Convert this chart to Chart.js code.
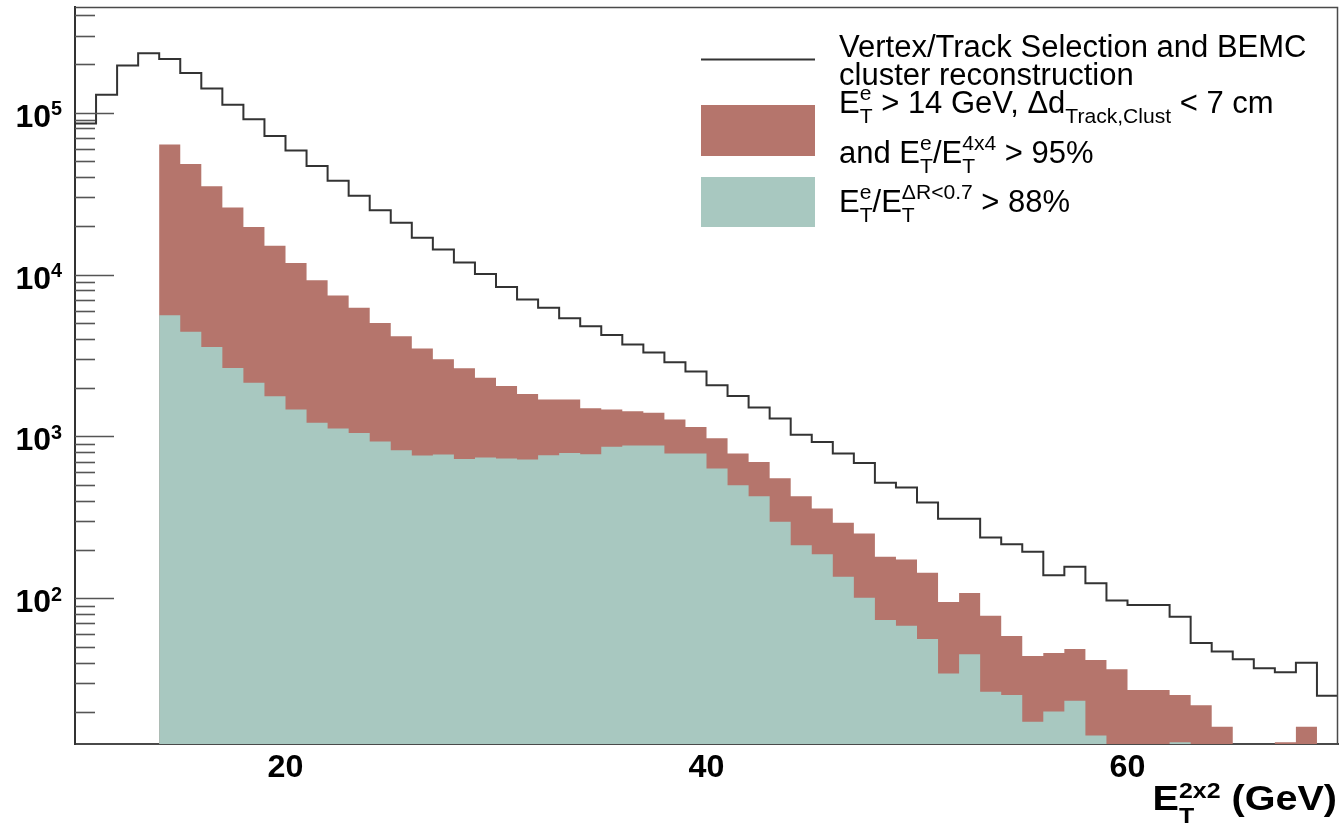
<!DOCTYPE html>
<html>
<head>
<meta charset="utf-8">
<title>E_T 2x2 spectrum after electron selection cuts</title>
<script src="https://cdn.jsdelivr.net/npm/chart.js@4.4.1/dist/chart.umd.min.js"></script>
<style>
  html, body { margin: 0; padding: 0; background: #ffffff; }
  #wrap { width: 1340px; height: 826px; position: relative; }
  canvas { display: block; }
</style>
</head>
<body>
<div id="wrap"><canvas id="chart" width="1340" height="826"></canvas></div>
<script>
// Histogram bins: lower edge of each 1 GeV bin in E_T^{2x2}
const binLow = [
  10, 11, 12, 13, 14, 15, 16, 17, 18, 19,
  20, 21, 22, 23, 24, 25, 26, 27, 28, 29,
  30, 31, 32, 33, 34, 35, 36, 37, 38, 39,
  40, 41, 42, 43, 44, 45, 46, 47, 48, 49,
  50, 51, 52, 53, 54, 55, 56, 57, 58, 59,
  60, 61, 62, 63, 64, 65, 66, 67, 68, 69
];
const binUpperEdge = 70;

// Vertex/Track selection and BEMC cluster reconstruction
const allSel = [
  85900, 129000, 196000, 233000, 215000, 176000, 141000, 112000, 91000, 71800,
  58500, 46800, 38000, 30700, 25000, 20900, 16900, 14300, 11900, 10100,
  8380, 7010, 6250, 5370, 4800, 4240, 3700, 3300, 2875, 2520,
  2073, 1780, 1510, 1291, 1025, 926, 785, 687, 517, 484,
  391, 310, 310, 238, 216, 194, 139, 157, 124, 97,
  91, 91, 77, 53, 47, 42, 37, 35, 40, 25
];

// E_T^e > 14 GeV, track-cluster distance and 4x4 ratio cuts
const trackSel = [
  0, 0, 0, 0, 63700, 48200, 35200, 26000, 19700, 15100,
  11800, 9230, 7420, 6250, 5020, 4160, 3490, 3000, 2640, 2310,
  2050, 1830, 1690, 1690, 1495, 1468, 1433, 1400, 1273, 1146,
  977, 785, 695, 553, 428, 359, 293, 252, 181, 174,
  144, 95, 108, 78, 58.5, 44, 46, 48.6, 41.6, 36.5,
  27.2, 27.2, 25.3, 21.9, 16.1, 0, 0, 12.9, 16.1, 0
];

// Isolation cut E_T^e / E_T^{dR<0.7} > 88%
const isoSel = [
  0, 0, 0, 0, 5610, 4430, 3575, 2650, 2145, 1775,
  1470, 1215, 1120, 1052, 930, 823, 764, 774, 727, 742,
  731, 721, 767, 792, 778, 863, 880, 880, 785, 785,
  634, 500, 428, 297, 213, 187, 136, 101, 73.5, 67.7,
  56.1, 34.4, 45.1, 26.5, 25.3, 17.3, 20, 23.3, 14.2, 0,
  0, 0, 12.9, 0, 0, 0, 0, 0, 0, 0
];

// Axis ticks and labels
const xTickValues = [20, 40, 60];
const yDecadeValues = [100, 1000, 10000, 100000];
const yDecadeExponents = ['2', '3', '4', '5'];

const X_MIN = 10, X_MAX = 70;
const Y_MIN = 12.6, Y_MAX = 450000;

const FONT = '"Liberation Sans", Arial, Helvetica, sans-serif';
const COLOR_LINE = '#333333';
const COLOR_TRACK = '#b5756c';
const COLOR_ISO = '#a8c8c0';
const COLOR_FRAME = '#4a4a4a';

// Turn a list of bin contents into step points (empty bins sit on the axis floor)
function histPoints(values) {
  const pts = binLow.map((x, i) => ({ x: x, y: values[i] > 0 ? values[i] : Y_MIN }));
  pts.push({ x: binUpperEdge, y: values[values.length - 1] > 0 ? values[values.length - 1] : Y_MIN });
  return pts;
}

// Draw text with superscripts / subscripts, optionally stretched horizontally
function drawRich(ctx, parts, x, y, o) {
  const size = o.size, small = size * (o.ratio || 0.68);
  const weight = o.weight || 'normal';
  const mainFont = weight + ' ' + size + 'px ' + FONT;
  const smallFont = weight + ' ' + small + 'px ' + FONT;
  const sx = o.sx || 1;
  let total = 0;
  for (const p of parts) {
    if (p.t !== undefined) { ctx.font = mainFont; total += ctx.measureText(p.t).width; }
    else {
      ctx.font = smallFont;
      total += Math.max(p.sup ? ctx.measureText(p.sup).width : 0, p.sub ? ctx.measureText(p.sub).width : 0);
    }
  }
  let startX = x;
  if (o.align === 'right') startX = x - total * sx;
  else if (o.align === 'center') startX = x - total * sx / 2;
  ctx.save();
  ctx.translate(startX, y);
  ctx.scale(sx, 1);
  ctx.fillStyle = o.color || '#000';
  ctx.textBaseline = 'alphabetic';
  ctx.textAlign = 'left';
  let cx = 0;
  const rise = size * (o.rise || 0.45), drop = size * (o.drop || 0.3);
  for (const p of parts) {
    if (p.t !== undefined) {
      ctx.font = mainFont;
      ctx.fillText(p.t, cx, 0);
      cx += ctx.measureText(p.t).width;
    } else {
      ctx.font = smallFont;
      let w = 0;
      if (p.sup) { ctx.fillText(p.sup, cx, -rise); w = Math.max(w, ctx.measureText(p.sup).width); }
      if (p.sub) { ctx.fillText(p.sub, cx, drop); w = Math.max(w, ctx.measureText(p.sub).width); }
      cx += w;
    }
  }
  ctx.restore();
}

const legendLines = [
  { parts: [{ t: 'Vertex/Track Selection and BEMC' }], y: 57 },
  { parts: [{ t: 'cluster reconstruction' }], y: 85 },
  { parts: [{ t: 'E' }, { sup: 'e', sub: 'T' }, { t: ' > 14 GeV, \u0394d' }, { sub: 'Track,Clust' }, { t: ' < 7 cm' }], y: 113 },
  { parts: [{ t: 'and E' }, { sup: 'e', sub: 'T' }, { t: '/E' }, { sup: '4x4', sub: 'T' }, { t: ' > 95%' }], y: 163 },
  { parts: [{ t: 'E' }, { sup: 'e', sub: 'T' }, { t: '/E' }, { sup: '\u0394R<0.7', sub: 'T' }, { t: ' > 88%' }], y: 212 }
];

const decorations = {
  id: 'rootStyle',
  afterDraw(chart) {
    const ctx = chart.ctx;
    const a = chart.chartArea;
    const xs = chart.scales.x, ys = chart.scales.y;

    // frame top and right
    ctx.save();
    ctx.strokeStyle = COLOR_FRAME;
    ctx.lineWidth = 1.5;
    ctx.beginPath();
    ctx.moveTo(a.left, a.top + 0.5);
    ctx.lineTo(a.right - 0.5, a.top + 0.5);
    ctx.lineTo(a.right - 0.5, a.bottom);
    ctx.stroke();

    // log-axis tick marks pointing into the frame
    ctx.lineWidth = 1.6;
    ctx.strokeStyle = '#555555';
    for (let d = 10; d <= 1e6; d *= 10) {
      for (let m = 1; m <= 9; m++) {
        const v = m * d;
        if (v < Y_MIN || v > Y_MAX) continue;
        const py = Math.round(ys.getPixelForValue(v)) + 0.5;
        const len = m === 1 ? 39 : 20;
        ctx.beginPath();
        ctx.moveTo(a.left, py);
        ctx.lineTo(a.left + len, py);
        ctx.stroke();
      }
    }
    ctx.restore();

    // y labels 10^n
    yDecadeValues.forEach((v, i) => {
      const py = ys.getPixelForValue(v);
      drawRich(ctx, [{ t: '10' }, { sup: yDecadeExponents[i] }], 62, py + 14, {
        size: 32, weight: 'bold', ratio: 0.62, rise: 0.36, align: 'right'
      });
    });

    // x labels
    xTickValues.forEach(v => {
      const px = xs.getPixelForValue(v);
      drawRich(ctx, [{ t: String(v) }], px, 777, { size: 31, weight: 'bold', align: 'center', sx: 1.04 });
    });

    // x axis title
    drawRich(ctx, [{ t: 'E' }, { sup: '2x2', sub: 'T' }, { t: ' (GeV)' }], 1337, 810, {
      size: 35, weight: 'bold', ratio: 0.63, rise: 0.33, drop: 0.37, align: 'right', sx: 1.13
    });

    // legend
    ctx.save();
    ctx.strokeStyle = COLOR_LINE;
    ctx.lineWidth = 2;
    ctx.beginPath();
    ctx.moveTo(701, 59.5);
    ctx.lineTo(815, 59.5);
    ctx.stroke();
    ctx.fillStyle = COLOR_TRACK;
    ctx.fillRect(701, 105, 114, 51);
    ctx.fillStyle = COLOR_ISO;
    ctx.fillRect(701, 177, 114, 50);
    ctx.restore();
    legendLines.forEach(l => {
      drawRich(ctx, l.parts, 839, l.y, { size: 31, ratio: 0.68, rise: 0.43, drop: 0.32, sx: 1 });
    });
  }
};

new Chart(document.getElementById('chart'), {
  type: 'line',
  data: {
    datasets: [
      {
        label: 'Vertex/Track Selection and BEMC cluster reconstruction',
        data: histPoints(allSel),
        stepped: 'before',
        borderColor: COLOR_LINE,
        borderWidth: 2,
        pointRadius: 0,
        fill: false
      },
      {
        label: 'isolation',
        data: histPoints(isoSel),
        stepped: 'before',
        borderWidth: 0,
        borderColor: COLOR_ISO,
        backgroundColor: COLOR_ISO,
        pointRadius: 0,
        fill: 'start'
      },
      {
        label: 'track-cluster',
        data: histPoints(trackSel),
        stepped: 'before',
        borderWidth: 0,
        borderColor: COLOR_TRACK,
        backgroundColor: COLOR_TRACK,
        pointRadius: 0,
        fill: 'start'
      }
    ]
  },
  options: {
    responsive: false,
    animation: false,
    devicePixelRatio: 1,
    layout: { padding: { top: 7, right: 2, left: 0, bottom: 0 } },
    plugins: { legend: { display: false }, tooltip: { enabled: false } },
    scales: {
      x: {
        type: 'linear',
        min: X_MIN,
        max: X_MAX,
        grid: { display: false, drawTicks: false },
        ticks: { display: false },
        border: { display: true, color: COLOR_FRAME, width: 2 },
        afterFit: s => { s.height = 82; }
      },
      y: {
        type: 'logarithmic',
        min: Y_MIN,
        max: Y_MAX,
        grid: { display: false, drawTicks: false },
        ticks: { display: false },
        border: { display: true, color: '#333333', width: 2 },
        afterFit: s => { s.width = 75; }
      }
    }
  },
  plugins: [decorations]
});
</script>
</body>
</html>
